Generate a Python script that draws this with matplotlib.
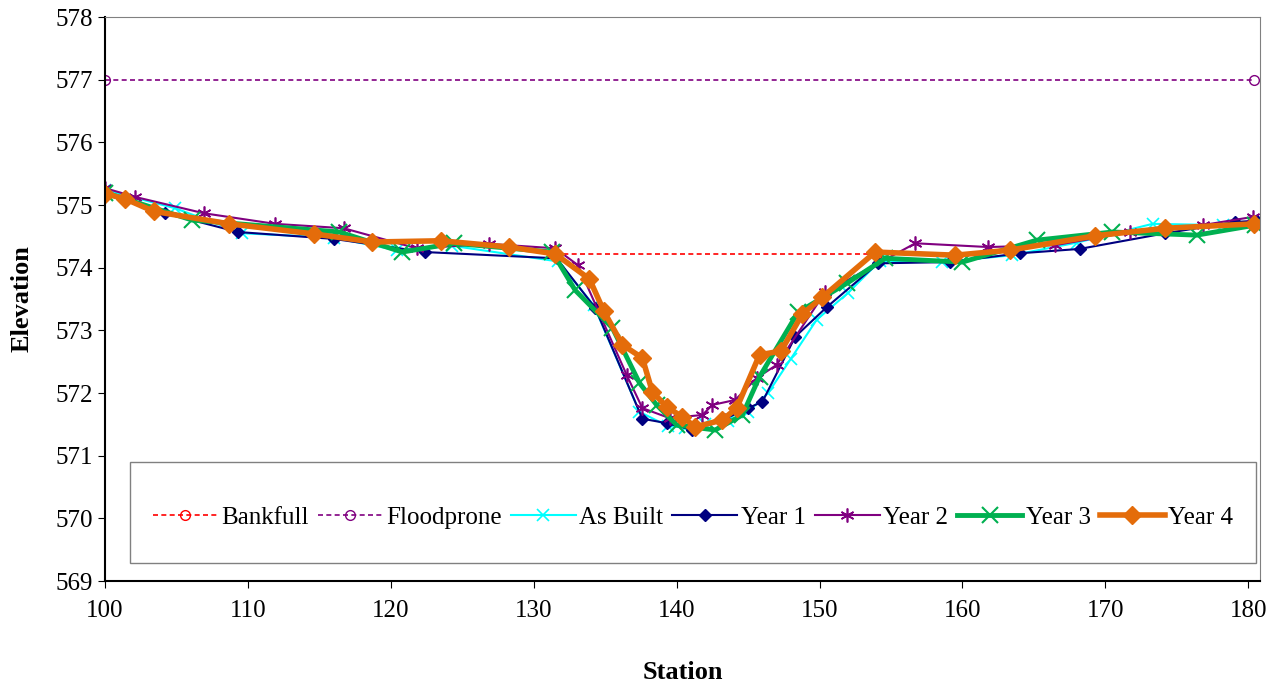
import matplotlib.pyplot as plt
from matplotlib.patches import Rectangle

plt.rcParams['font.family'] = ['Liberation Serif', 'DejaVu Serif']

# bankfull and floodprone reference lines
bkf_x = [131.5, 154.0]
bkf_y = [574.22, 574.22]
fp_x = [100.0, 180.4]
fp_y = [577.0, 577.0]

# cross-section surveys
asbuilt_x = [100.0, 104.9, 109.6, 116.0, 120.4, 124.3, 131.7, 134.2, 137.4, 139.4, 140.6, 142.0,
             143.6, 145.0, 146.4, 148.0, 149.8, 152.0, 154.2, 158.6, 163.5, 168.0, 173.3, 178.2, 180.6]
asbuilt_y = [575.24, 574.95, 574.55, 574.48, 574.28, 574.35, 574.10, 573.40, 571.70, 571.47, 571.45, 571.50,
             571.55, 571.70, 572.00, 572.55, 573.17, 573.60, 574.10, 574.09, 574.20, 574.40, 574.70, 574.68, 574.72]
y1_x = [100.0, 104.2, 109.3, 116.0, 122.4, 131.6, 134.3, 137.6, 139.3, 141.1, 143.3, 145.0,
        146.0, 148.3, 150.5, 154.1, 159.1, 164.0, 168.2, 174.2, 179.1, 180.6]
y1_y = [575.22, 574.87, 574.57, 574.46, 574.25, 574.15, 573.36, 571.59, 571.52, 571.41, 571.58, 571.76,
        571.86, 572.90, 573.37, 574.07, 574.09, 574.23, 574.30, 574.55, 574.73, 574.75]
y2_x = [100.0, 102.1, 106.9, 111.9, 116.7, 121.8, 126.9, 131.5, 133.1, 136.5, 137.6, 139.5,
        141.8, 142.5, 144.1, 145.6, 147.0, 150.4, 156.7, 161.8, 166.5, 171.7, 176.8, 180.3]
y2_y = [575.27, 575.13, 574.87, 574.70, 574.63, 574.31, 574.38, 574.31, 574.04, 572.29, 571.76, 571.60,
        571.65, 571.81, 571.89, 572.24, 572.45, 573.61, 574.39, 574.33, 574.36, 574.57, 574.68, 574.81]
y3_x = [100.0, 106.1, 116.4, 120.8, 124.4, 131.3, 132.9, 135.5, 137.4, 138.6, 140.0, 142.7,
        144.6, 145.8, 148.5, 151.9, 154.6, 160.0, 165.2, 170.5, 176.4, 180.5]
y3_y = [575.20, 574.76, 574.57, 574.25, 574.39, 574.25, 573.64, 573.04, 572.16, 571.81, 571.49, 571.41,
        571.65, 572.26, 573.29, 573.75, 574.15, 574.09, 574.44, 574.57, 574.52, 574.68]
y4_x = [100.0, 101.4, 103.4, 108.7, 114.6, 118.7, 123.5, 128.3, 131.5, 133.9, 134.9, 136.2, 137.6,
        138.3, 139.3, 140.4, 141.3, 143.2, 144.2, 145.8, 147.3, 148.8, 150.2, 153.9, 159.5, 163.3,
        169.3, 174.2, 180.4]
y4_y = [575.18, 575.10, 574.90, 574.70, 574.54, 574.41, 574.43, 574.33, 574.22, 573.82, 573.31, 572.77, 572.56,
        572.02, 571.78, 571.62, 571.46, 571.57, 571.76, 572.61, 572.67, 573.26, 573.53, 574.25, 574.20, 574.28,
        574.51, 574.63, 574.70]

fig, ax = plt.subplots(figsize=(12.78, 6.83), dpi=100)
fig.subplots_adjust(left=0.0822, right=0.986, top=0.975, bottom=0.1493)

ax.plot(bkf_x, bkf_y, color='#FF0000', ls=(0, (3, 2)), lw=1.2, marker='o', mfc='none', ms=7, label='Bankfull')
ax.plot(fp_x, fp_y, color='#800080', ls=(0, (3, 2)), lw=1.2, marker='o', mfc='none', ms=7, label='Floodprone')
ax.plot(asbuilt_x, asbuilt_y, color='#00FFFF', lw=1.5, marker='x', ms=8, mew=1.2, label='As Built')
ax.plot(y1_x, y1_y, color='#000080', lw=1.5, marker='D', ms=6, label='Year 1')
ax.plot(y2_x, y2_y, color='#800080', lw=1.5, marker=(6, 2, 0), ms=10, mew=1.2, label='Year 2')
ax.plot(y3_x, y3_y, color='#00B050', lw=3.5, marker='x', ms=11, mew=1.5, label='Year 3')
ax.plot(y4_x, y4_y, color='#E46C0A', lw=4, marker='D', ms=9, label='Year 4')

ax.set_xlim(100, 180.83)
ax.set_ylim(569, 578)
ax.set_xticks(range(100, 181, 10))
ax.set_yticks(range(569, 579))
ax.tick_params(labelsize=18, direction='out', length=5)
ax.tick_params(axis='x', pad=9)
for s in ['top', 'right']:
    ax.spines[s].set_color('#808080')
ax.spines['left'].set_linewidth(1.5)
ax.spines['bottom'].set_linewidth(1.5)

ax.set_xlabel('Station', fontsize=19, fontweight='bold', labelpad=28)
ax.set_ylabel('Elevation', fontsize=19, fontweight='bold', labelpad=16)

# legend box across the lower part of the plot
ax.add_patch(Rectangle((0.0216, 0.032), 0.975, 0.179, transform=ax.transAxes,
                       facecolor='white', edgecolor='#808080', lw=1, zorder=5))
leg = ax.legend(loc='center', bbox_to_anchor=(0.509, 0.113), ncol=7, frameon=False,
                fontsize=18, handlelength=2.6, handletextpad=0.15, columnspacing=0.35)
leg.set_zorder(6)

fig.savefig('out.png')
